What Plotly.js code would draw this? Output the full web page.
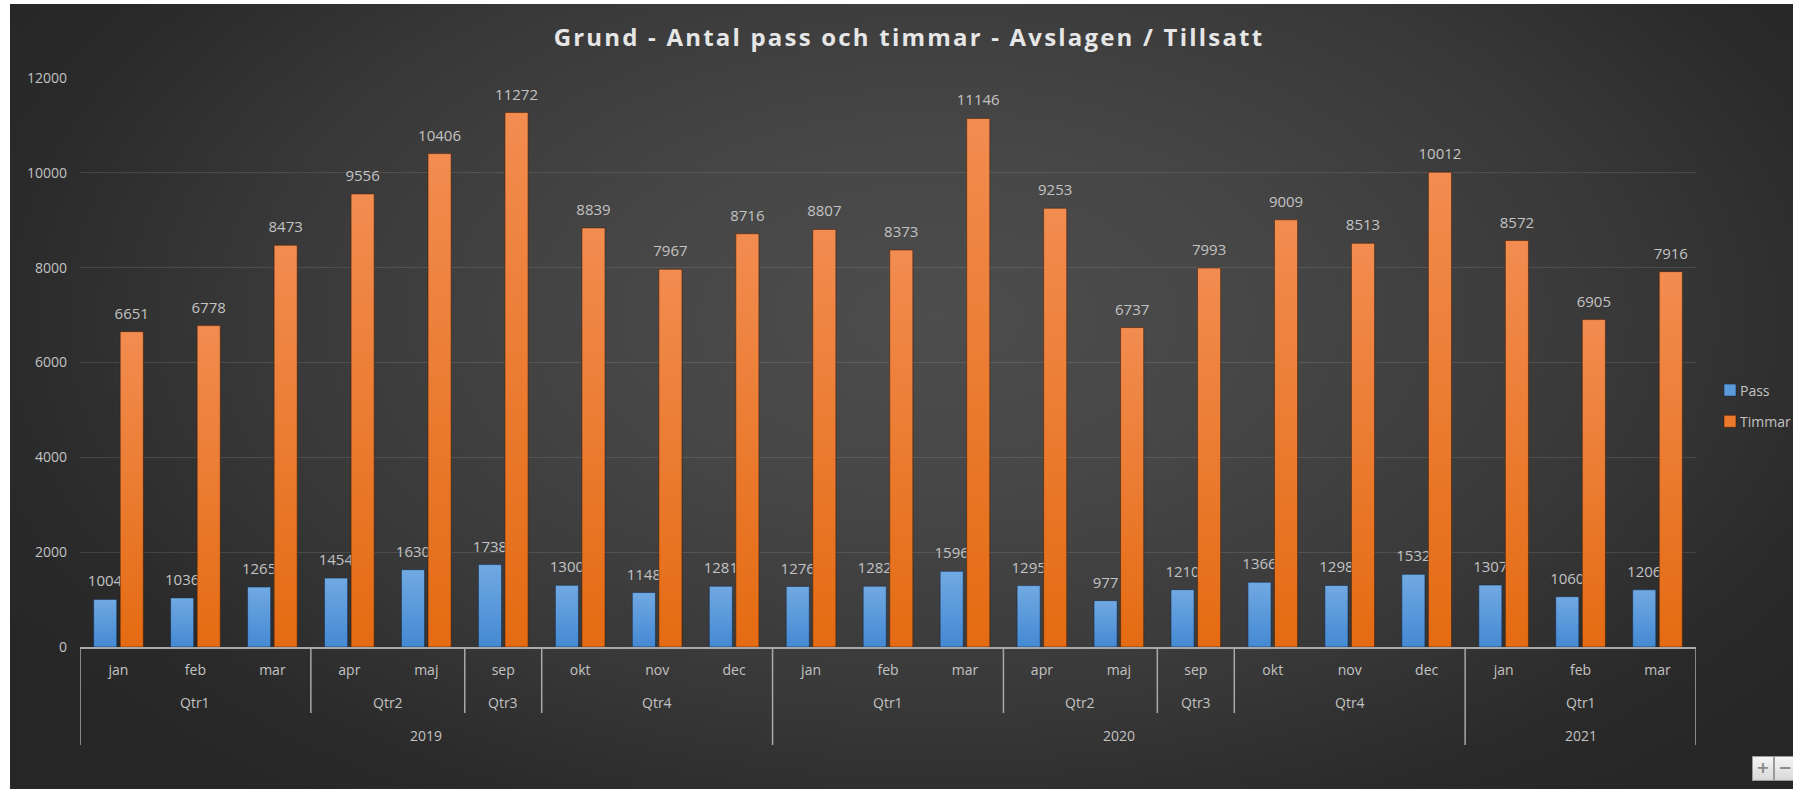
<!DOCTYPE html>
<html><head><meta charset="utf-8">
<script src="https://cdn.plot.ly/plotly-3.0.1.min.js"></script>
<style>
html,body{margin:0;padding:0;background:#ffffff;overflow:hidden;}
#bg{position:absolute;left:10px;top:4px;width:1783px;height:785px;
background: radial-gradient(ellipse 62% 80% at 52% 40%, #4d4d4d 0%, #464646 30%, #383838 62%, #2a2a2a 85%, #262626 100%);}
#chart{position:absolute;left:0;top:0;width:1793px;height:789px;}
#chart .gtitle{letter-spacing:2.2px;}
#zoomctl{position:absolute;left:1752px;top:756px;height:25px;display:flex;}
#zoomctl div{width:20px;height:23px;background:linear-gradient(#f4f4f4,#d9d9d9);border:1px solid #9a9a9a;
 color:#8a8a8a;font:bold 16px "DejaVu Sans",sans-serif;text-align:center;line-height:22px;}
</style></head><body>
<div id="bg"></div><div id="chart"></div>
<div id="zoomctl"><div>+</div><div>−</div></div>
<script>
// ---- data ----
const years    = ['2019','2019','2019','2019','2019','2019','2019','2019','2019',
                  '2020','2020','2020','2020','2020','2020','2020','2020','2020',
                  '2021','2021','2021'];
const quarters = ['Qtr1','Qtr1','Qtr1','Qtr2','Qtr2','Qtr3','Qtr4','Qtr4','Qtr4',
                  'Qtr1','Qtr1','Qtr1','Qtr2','Qtr2','Qtr3','Qtr4','Qtr4','Qtr4',
                  'Qtr1','Qtr1','Qtr1'];
const months   = ['jan','feb','mar','apr','maj','sep','okt','nov','dec',
                  'jan','feb','mar','apr','maj','sep','okt','nov','dec',
                  'jan','feb','mar'];
const pass     = [1004,1036,1265,1454,1630,1738,1300,1148,1281,
                  1276,1282,1596,1295,977,1210,1366,1298,1532,
                  1307,1060,1206];
const timmar   = [6651,6778,8473,9556,10406,11272,8839,7967,8716,
                  8807,8373,11146,9253,6737,7993,9009,8513,10012,
                  8572,6905,7916];
const yTicks   = [0,2000,4000,6000,8000,10000,12000];
const titleText = 'Grund - Antal pass och timmar - Avslagen / Tillsatt';

// ---- helpers ----
const idx = months.map((_, i) => i);
const labelColor = '#c3c3c3';
const fontFam = '"Open Sans", "Noto Sans", sans-serif';

const W = 1793, H = 789;
const M = {l: 80, r: 97, t: 78, b: 142, autoexpand: false};
const plotH = H - M.t - M.b;
const plotW = W - M.l - M.r;
const py = px => -px / plotH;   // pixels below baseline -> paper y

function runs(keys) {
  const out = [];
  let start = 0;
  for (let i = 1; i <= keys.length; i++) {
    if (i === keys.length || keys[i] !== keys[start]) {
      out.push({start: start, end: i - 1});
      start = i;
    }
  }
  return out;
}
const qKeys = years.map((y, i) => y + '|' + quarters[i]);
const qRuns = runs(qKeys);
const yRuns = runs(years);

const annotations = [];
qRuns.forEach(r => annotations.push({
  xref: 'x', yref: 'paper', x: (r.start + r.end) / 2, y: py(55),
  text: quarters[r.start], showarrow: false, yanchor: 'middle',
  font: {family: fontFam, size: 14, color: labelColor}
}));
yRuns.forEach(r => annotations.push({
  xref: 'x', yref: 'paper', x: (r.start + r.end) / 2, y: py(88),
  text: years[r.start], showarrow: false, yanchor: 'middle',
  font: {family: fontFam, size: 14, color: labelColor}
}));

const shapes = [];
const lineStyle = {color: '#a9a9a9', width: 1.5};
const yearBounds = new Set();
yRuns.forEach(r => { yearBounds.add(r.start - 0.5); yearBounds.add(r.end + 0.5); });
yearBounds.forEach(b => shapes.push({
  type: 'line', xref: 'x', yref: 'paper', x0: b, x1: b, y0: 0, y1: py(98), line: lineStyle
}));
qRuns.forEach(r => {
  const b = r.start - 0.5;
  if (!yearBounds.has(b)) shapes.push({
    type: 'line', xref: 'x', yref: 'paper', x0: b, x1: b, y0: 0, y1: py(66), line: lineStyle
  });
});

const traces = [
  {type: 'bar', name: 'Pass', x: idx, y: pass, legendgroup: 'a',
   marker: {color: '#5b9ad9', line: {color: 'rgba(20,40,70,0.55)', width: 1}},
   text: pass.map(String), textposition: 'outside', cliponaxis: false, constraintext: 'none',
   textfont: {family: fontFam, size: 15, color: labelColor}, hoverinfo: 'y+name'},
  {type: 'bar', name: 'Timmar', x: idx, y: timmar, legendgroup: 'b',
   marker: {color: '#ec7a2c', line: {color: 'rgba(70,30,5,0.55)', width: 1}},
   text: timmar.map(String), textposition: 'outside', cliponaxis: false, constraintext: 'none',
   textfont: {family: fontFam, size: 15, color: labelColor}, hoverinfo: 'y+name'}
];

const legendLeftPx = 1710;
const layout = {
  width: W, height: H,
  margin: M,
  paper_bgcolor: 'rgba(0,0,0,0)',
  plot_bgcolor: 'rgba(0,0,0,0)',
  barmode: 'group',
  bargap: 0.31,
  bargroupgap: 0.13,
  title: {
    text: '<b>' + titleText + '</b>',
    x: 909 / W, xanchor: 'center', y: 1 - 38 / H, yanchor: 'middle',
    font: {family: fontFam, size: 24, color: '#e6e6e6'}
  },
  xaxis: {
    type: 'linear', range: [-0.5, months.length - 0.5],
    tickvals: idx, ticktext: months, ticks: '',
    ticklabelstandoff: 10,
    tickfont: {family: fontFam, size: 14, color: labelColor},
    showgrid: false, zeroline: false,
    showline: true, linecolor: '#a9a9a9', linewidth: 1.5,
    fixedrange: true
  },
  yaxis: {
    range: [0, 12000], tickvals: yTicks, ticktext: yTicks.map(String),
    ticks: '', ticklabelstandoff: 12,
    tickfont: {family: fontFam, size: 14, color: labelColor},
    gridcolor: 'rgba(255,255,255,0.11)', gridwidth: 1.2,
    zeroline: false, showline: false, fixedrange: true
  },
  showlegend: true,
  legend: {
    x: (legendLeftPx - M.l) / plotW, xanchor: 'left', y: (H - M.b - 406) / plotH, yanchor: 'middle',
    bgcolor: 'rgba(0,0,0,0)', traceorder: 'grouped', tracegroupgap: 10,
    font: {family: fontFam, size: 14, color: labelColor},
    itemclick: false, itemdoubleclick: false
  },
  annotations: annotations,
  shapes: shapes
};

Plotly.newPlot('chart', traces, layout, {displayModeBar: false, staticPlot: true}).then(gd => {
  const svg = gd.querySelector('.main-svg');
  const NS = 'http://www.w3.org/2000/svg';
  let defs = svg.querySelector('defs');
  if (!defs) { defs = document.createElementNS(NS, 'defs'); svg.insertBefore(defs, svg.firstChild); }
  function grad(id, c1, c2) {
    const g = document.createElementNS(NS, 'linearGradient');
    g.setAttribute('id', id); g.setAttribute('x1', '0'); g.setAttribute('y1', '0');
    g.setAttribute('x2', '0'); g.setAttribute('y2', '1');
    [[0, c1], [1, c2]].forEach(([o, c]) => {
      const s = document.createElementNS(NS, 'stop');
      s.setAttribute('offset', o); s.setAttribute('stop-color', c);
      g.appendChild(s);
    });
    defs.appendChild(g);
  }
  grad('gPass', '#71a9e2', '#4489d3');
  grad('gTim', '#f28c50', '#e46b12');
  const ids = ['gPass', 'gTim'];
  gd.querySelectorAll('.trace.bars').forEach((tr, k) => {
    tr.querySelectorAll('.point path').forEach(p => { p.style.fill = 'url(#' + ids[k] + ')'; });
    tr.querySelectorAll('text.bartext').forEach(t => {
      const tf = t.getAttribute('transform') || '';
      t.setAttribute('transform', 'translate(0,-6) ' + tf);
    });
  });
  gd.querySelectorAll('.legend text.legendtext').forEach(t => {
    t.setAttribute('x', String(parseFloat(t.getAttribute('x') || 40) - 10));
  });
});
</script>
</body></html>
